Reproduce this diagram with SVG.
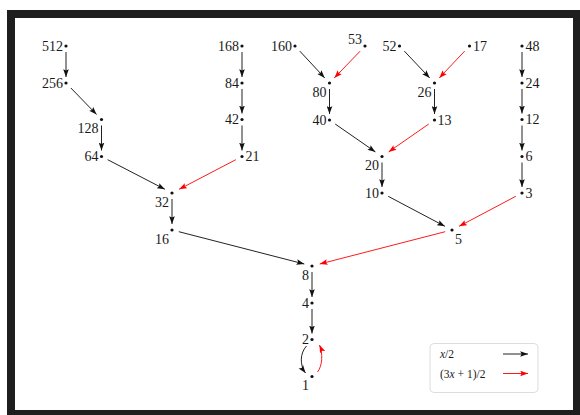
<svg xmlns="http://www.w3.org/2000/svg" width="580" height="415" viewBox="0 0 580 415">
<defs>
<marker id="ab" viewBox="-8 -3 8 6" refX="0" refY="0" markerWidth="8" markerHeight="6" markerUnits="userSpaceOnUse" orient="auto">
<path d="M0,0 L-7.8,-2.8 L-6.4,0 L-7.8,2.8 Z" fill="#111"/>
</marker>
<marker id="ar" viewBox="-8 -3 8 6" refX="0" refY="0" markerWidth="8" markerHeight="6" markerUnits="userSpaceOnUse" orient="auto">
<path d="M0,0 L-7.8,-2.8 L-6.4,0 L-7.8,2.8 Z" fill="#ff0000"/>
</marker>
</defs>
<style>
text{font-family:"Liberation Serif","Times New Roman",serif;font-size:14px;fill:#1a1a1a}
.L,.BL,.AL{text-anchor:end}
.R,.BR{text-anchor:start}
circle{fill:#111}
.b{stroke:#222;stroke-width:1;fill:none;marker-end:url(#ab)}
.r{stroke:#ff1a1a;stroke-width:1;fill:none;marker-end:url(#ar)}
.leg{font-size:11.5px}
</style>
<rect x="0" y="0" width="580" height="415" fill="#ffffff"/>
<rect x="11" y="14" width="566" height="400" fill="#ffffff" stroke="#1e1e1e" stroke-width="8"/>

<g id="connectors">
<path class="b" d="M66,52 L66,77"/>
<path class="b" d="M70.9,88 L96.6,114.5"/>
<path class="b" d="M101.5,125.5 L101.5,150.5"/>
<path class="b" d="M107.7,159.7 L164.9,189.3"/>
<path class="b" d="M172,199 L172,224"/>
<path class="b" d="M178.8,231.7 L304.3,264"/>
<path class="b" d="M242,52 L242,77"/>
<path class="b" d="M242,89 L242,113.5"/>
<path class="b" d="M242,125.5 L242,150.5"/>
<path class="r" d="M235.8,159.7 L179.1,189.3"/>
<path class="b" d="M299.8,51.1 L324.7,77.9"/>
<path class="r" d="M360.2,51.1 L334.3,77.9"/>
<path class="b" d="M329.5,89 L329.5,114"/>
<path class="b" d="M404.3,51.1 L429.7,77.9"/>
<path class="r" d="M464.7,51.1 L439.3,77.9"/>
<path class="b" d="M434.5,89 L434.5,114"/>
<path class="b" d="M335.2,124 L375.4,151.9"/>
<path class="r" d="M428.8,124 L388.6,151.9"/>
<path class="b" d="M382,162.5 L382,187"/>
<path class="b" d="M388.2,196.3 L444.9,226.3"/>
<path class="b" d="M522,52 L522,77"/>
<path class="b" d="M522,89 L522,113.5"/>
<path class="b" d="M522,125.5 L522,150.5"/>
<path class="b" d="M522,162.5 L522,187"/>
<path class="r" d="M515.8,196.3 L459.1,226.3"/>
<path class="r" d="M445.2,231.7 L319.7,264"/>
<path class="b" d="M312,272 L312,297"/>
<path class="b" d="M312,309 L312,333.5"/>
<path class="b" d="M306.5,346 C300,353 299.5,365 305.5,373"/>
<path class="r" d="M317.5,372 C322.5,366 323,353 319.5,345"/>
</g>

<g id="n512"><circle cx="66" cy="46" r="1.6"/><text class="L" x="63" y="50.7">512</text></g>
<g id="n256"><circle cx="66" cy="83" r="1.6"/><text class="L" x="63" y="87.7">256</text></g>
<g id="n128"><circle cx="101.5" cy="119.5" r="1.6"/><text class="BL" x="98.5" y="132.5">128</text></g>
<g id="n64"><circle cx="101.5" cy="156.5" r="1.6"/><text class="L" x="98.5" y="161.2">64</text></g>
<g id="n32"><circle cx="172" cy="193" r="1.6"/><text class="BL" x="169" y="206.5">32</text></g>
<g id="n16"><circle cx="172" cy="230" r="1.6"/><text class="BL" x="169" y="243.5">16</text></g>
<g id="n168"><circle cx="242" cy="46" r="1.6"/><text class="L" x="239" y="50.7">168</text></g>
<g id="n84"><circle cx="242" cy="83" r="1.6"/><text class="L" x="239" y="87.7">84</text></g>
<g id="n42"><circle cx="242" cy="119.5" r="1.6"/><text class="L" x="239" y="124.2">42</text></g>
<g id="n21"><circle cx="242" cy="156.5" r="1.6"/><text class="R" x="245.5" y="161.2">21</text></g>
<g id="n160"><circle cx="295" cy="46" r="1.6"/><text class="L" x="292" y="50.7">160</text></g>
<g id="n53"><circle cx="365" cy="46" r="1.6"/><text class="AL" x="362" y="43.5">53</text></g>
<g id="n80"><circle cx="329.5" cy="83" r="1.6"/><text class="BL" x="326.5" y="96.5">80</text></g>
<g id="n40"><circle cx="329.5" cy="120" r="1.6"/><text class="L" x="326.5" y="124.7">40</text></g>
<g id="n52"><circle cx="399.5" cy="46" r="1.6"/><text class="L" x="396.5" y="50.7">52</text></g>
<g id="n17"><circle cx="469.5" cy="46" r="1.6"/><text class="R" x="473" y="50.7">17</text></g>
<g id="n26"><circle cx="434.5" cy="83" r="1.6"/><text class="BL" x="431.5" y="96.5">26</text></g>
<g id="n13"><circle cx="434.5" cy="120" r="1.6"/><text class="R" x="437.5" y="124.7">13</text></g>
<g id="n20"><circle cx="382" cy="156.5" r="1.6"/><text class="BL" x="379" y="170">20</text></g>
<g id="n10"><circle cx="382" cy="193" r="1.6"/><text class="L" x="379" y="197.7">10</text></g>
<g id="n48"><circle cx="522" cy="46" r="1.6"/><text class="R" x="525.5" y="50.7">48</text></g>
<g id="n24"><circle cx="522" cy="83" r="1.6"/><text class="R" x="525.5" y="87.7">24</text></g>
<g id="n12"><circle cx="522" cy="119.5" r="1.6"/><text class="R" x="525.5" y="124.2">12</text></g>
<g id="n6"><circle cx="522" cy="156.5" r="1.6"/><text class="R" x="525.5" y="161.2">6</text></g>
<g id="n3"><circle cx="522" cy="193" r="1.6"/><text class="R" x="525.5" y="197.7">3</text></g>
<g id="n5"><circle cx="452" cy="230" r="1.6"/><text class="BR" x="455" y="243.5">5</text></g>
<g id="n8"><circle cx="312" cy="266" r="1.6"/><text class="BL" x="309" y="279.5">8</text></g>
<g id="n4"><circle cx="312" cy="303" r="1.6"/><text class="L" x="309" y="307.7">4</text></g>
<g id="n2"><circle cx="312" cy="339.5" r="1.6"/><text class="L" x="309" y="343.7">2</text></g>
<g id="n1"><circle cx="312" cy="376.5" r="1.6"/><text class="BL" x="309" y="390">1</text></g>

<g id="legend">
<rect x="430" y="343.5" width="108" height="49" rx="4" ry="4" fill="#ffffff" stroke="#dddddd" stroke-width="1"/>
<text class="leg" x="440" y="358"><tspan font-style="italic">x</tspan>/2</text>
<text class="leg" x="440" y="377.5">(3<tspan font-style="italic">x</tspan> + 1)/2</text>
<path class="b" d="M503,354 L528,354"/>
<path class="r" d="M503,373.5 L528,373.5"/>
</g>
</svg>
